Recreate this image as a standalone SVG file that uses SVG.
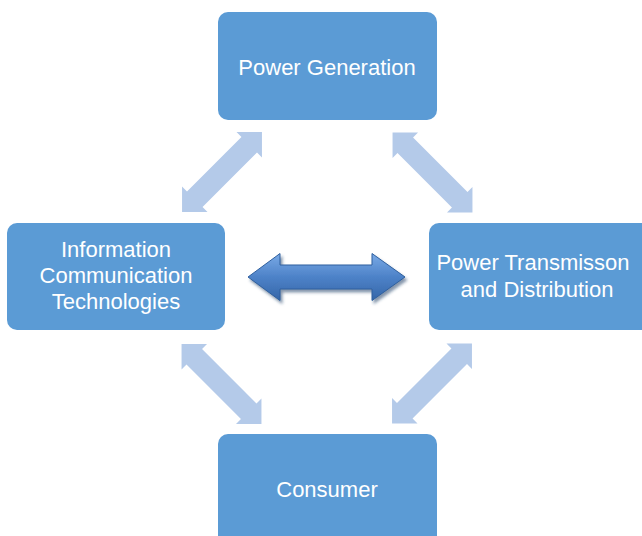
<svg xmlns="http://www.w3.org/2000/svg" width="642" height="536" viewBox="0 0 642 536">
  <defs>
    <style>
      .node { fill: #5B9BD5; }
      .label { font-family: "Liberation Sans", Arial, sans-serif; font-size: 22px; fill: #FFFFFF; text-anchor: middle; }
      .light { fill: #B4CAE9; }
    </style>
    <linearGradient id="blueGrad" x1="0" y1="0" x2="0" y2="1">
      <stop offset="0" stop-color="#7AAAE6"/>
      <stop offset="0.5" stop-color="#4D82C8"/>
      <stop offset="1" stop-color="#3566A8"/>
    </linearGradient>
    <filter id="shadow" x="-10%" y="-20%" width="130%" height="160%">
      <feDropShadow dx="2" dy="3" stdDeviation="1.5" flood-color="#1F3F66" flood-opacity="0.55"/>
    </filter>
    <path id="dblArrow" d="M-56.5,0 L-38.5,-18 L-38.5,-11 L38.5,-11 L38.5,-18 L56.5,0 L38.5,18 L38.5,11 L-38.5,11 L-38.5,18 Z"/>
  </defs>
  <rect width="642" height="536" fill="#FFFFFF"/>

  <g id="connectors">
    <use href="#dblArrow" class="light" transform="translate(222,172) rotate(-45)"/>
    <use href="#dblArrow" class="light" transform="translate(432.5,172.5) rotate(45)"/>
    <use href="#dblArrow" class="light" transform="translate(221.5,384) rotate(45)"/>
    <use href="#dblArrow" class="light" transform="translate(432,383.5) rotate(-45)"/>
    <path id="center-arrow" d="M248,277 L280,253.5 L280,265 L372,265 L372,253.5 L405,277 L372,300.5 L372,289 L280,289 L280,300.5 Z" fill="url(#blueGrad)" stroke="#2F5F9E" stroke-width="1" filter="url(#shadow)"/>
  </g>

  <g id="power-generation">
    <rect class="node" x="218" y="12" width="219" height="108" rx="10"/>
    <text class="label" x="327" y="75">Power Generation</text>
  </g>

  <g id="ict">
    <rect class="node" x="7" y="223" width="218" height="107" rx="10"/>
    <text class="label" x="116" y="257">Information<tspan x="116" dy="26">Communication</tspan><tspan x="116" dy="26">Technologies</tspan></text>
  </g>

  <g id="transmission">
    <rect class="node" x="429" y="223" width="222" height="107" rx="10"/>
    <text class="label" x="533" y="270">Power Transmisson<tspan x="537" dy="27">and Distribution</tspan></text>
  </g>

  <g id="consumer">
    <rect class="node" x="218" y="434" width="219" height="112" rx="10"/>
    <text class="label" x="327" y="497">Consumer</text>
  </g>
</svg>
